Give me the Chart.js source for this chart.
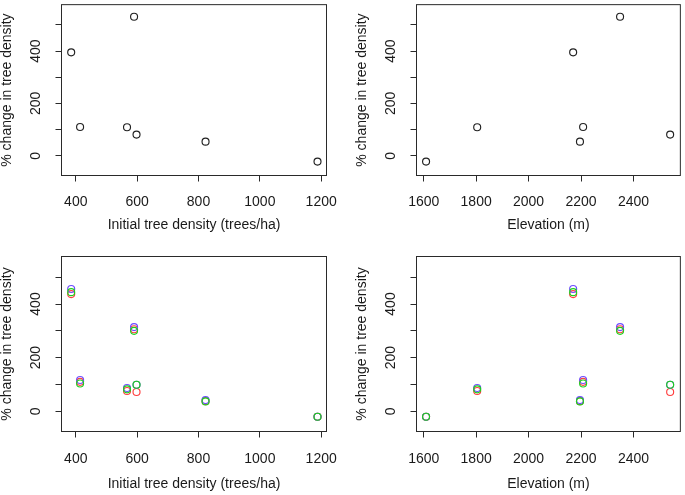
<!DOCTYPE html>
<html>
<head>
<meta charset="utf-8">
<script src="https://cdn.jsdelivr.net/npm/chart.js@4.4.0/dist/chart.umd.min.js"></script>
<style>
  html, body { margin: 0; padding: 0; background: #fff; }
  #wrap { position: relative; width: 685px; height: 495px; }
  #wrap canvas { position: absolute; left: 0; top: 0; }
</style>
</head>
<body>
<div id="wrap">
  <canvas id="c1" width="685" height="495"></canvas>
  <canvas id="c2" width="685" height="495"></canvas>
  <canvas id="c3" width="685" height="495"></canvas>
  <canvas id="c4" width="685" height="495"></canvas>
</div>
<script>
// data
const density = [385, 590, 414, 567, 598, 823, 1188];
const elevation = [2170, 2349, 2208, 1804, 2540, 2196, 1609];
const change = [395, 531, 110, 109, 81, 54, -22];
const changeRed = [437, 306, 110, 76, 72, 38, -20];
const changeGreen = [444, 300, 104, 82, 99, 37, -20];
const changeBlue = [456, 314, 117, 87, 99, 42, -20];

const densityTicks = [400, 600, 800, 1000, 1200];
const elevationTicks = [1600, 1800, 2000, 2200, 2400];
const yTicks = [0, 100, 200, 300, 400, 500];
const yTickLabels = [0, 200, 400];

const densityTitle = "Initial tree density (trees/ha)";
const elevationTitle = "Elevation (m)";
const yTitle = "% change in tree density";

const FONT = "'Liberation Sans', Arial, Helvetica, sans-serif";
const INK = "#1a1a1a";

const boxPlugin = {
  id: "box",
  afterDraw(chart) {
    const { ctx, chartArea: a } = chart;
    ctx.save();
    ctx.strokeStyle = "#2a2a2a";
    ctx.lineWidth = 1;
    ctx.strokeRect(a.left, a.top, a.right - a.left, a.bottom - a.top);
    ctx.restore();
  }
};

function pts(xs, ys) {
  return xs.map((x, i) => ({ x: x, y: ys[i] }));
}

function ptSet(data, color, order) {
  return {
    data: data,
    showLine: false,
    pointStyle: "circle",
    pointRadius: 3.5,
    pointHoverRadius: 3.5,
    pointBorderWidth: 1.15,
    pointBorderColor: color,
    pointBackgroundColor: "rgba(0,0,0,0)",
    order: order
  };
}

function panel(id, box, xRange, xTicks, xTitle, datasets) {
  const padLeft = box.l - 61.5;
  const titleBottom = box.titleMid + 7;
  new Chart(document.getElementById(id), {
    type: "scatter",
    data: { datasets: datasets },
    plugins: [boxPlugin],
    options: {
      responsive: false,
      animation: false,
      events: [],
      layout: {
        padding: { left: padLeft, top: box.t, right: 685 - box.r, bottom: 495 - titleBottom }
      },
      plugins: { legend: { display: false }, tooltip: { enabled: false } },
      scales: {
        x: {
          type: "linear",
          min: xRange[0],
          max: xRange[1],
          afterBuildTicks: (s) => { s.ticks = xTicks.map((v) => ({ value: v })); },
          afterFit: (s) => { s.height = titleBottom - box.b; s.paddingLeft = 0; s.paddingRight = 0; },
          grid: { drawOnChartArea: false, drawTicks: true, tickLength: 6, color: "#2a2a2a", lineWidth: 1 },
          border: { display: false },
          ticks: {
            font: { family: FONT, size: 14 }, color: INK, padding: box.tickPad,
            maxRotation: 0, autoSkip: false,
            callback: (v) => String(v)
          },
          title: { display: true, text: xTitle, font: { family: FONT, size: 14, lineHeight: 1 }, color: INK, padding: 0 }
        },
        y: {
          type: "linear",
          min: -75,
          max: 577,
          afterBuildTicks: (s) => { s.ticks = yTicks.map((v) => ({ value: v })); },
          afterFit: (s) => { s.width = box.l - padLeft; s.paddingTop = 0; s.paddingBottom = 0; },
          grid: { drawOnChartArea: false, drawTicks: true, tickLength: 6, color: "#2a2a2a", lineWidth: 1 },
          border: { display: false },
          ticks: {
            font: { family: FONT, size: 14 }, color: INK, padding: 7.8,
            minRotation: 90, maxRotation: 90, crossAlign: "center", autoSkip: false,
            callback: (v) => (yTickLabels.includes(v) ? String(v) : "")
          },
          title: { display: true, text: yTitle, font: { family: FONT, size: 14, lineHeight: 1 }, color: INK, padding: 0 }
        }
      }
    }
  });
}

const topLeft = { l: 61.5, t: 1.5, r: 326.5, b: 175.5, titleMid: 225.5, tickPad: 12 };
const topRight = { l: 416.5, t: 1.5, r: 682.5, b: 175.5, titleMid: 225.5, tickPad: 12 };
const botLeft = { l: 61.5, t: 256.5, r: 326.5, b: 431.5, titleMid: 484.5, tickPad: 13.4 };
const botRight = { l: 416.5, t: 256.5, r: 682.5, b: 431.5, titleMid: 484.5, tickPad: 13.4 };

const densityRange = [353.4, 1217.3];
const elevationRange = [1572.5, 2578.9];

panel("c1", topLeft, densityRange, densityTicks, densityTitle,
  [ptSet(pts(density, change), "#222", 0)]);
panel("c2", topRight, elevationRange, elevationTicks, elevationTitle,
  [ptSet(pts(elevation, change), "#222", 0)]);
panel("c3", botLeft, densityRange, densityTicks, densityTitle, [
  ptSet(pts(density, changeGreen), "#1ed01e", 0),
  ptSet(pts(density, changeBlue), "#6e4cff", 1),
  ptSet(pts(density, changeRed), "#ff4040", 2)
]);
panel("c4", botRight, elevationRange, elevationTicks, elevationTitle, [
  ptSet(pts(elevation, changeGreen), "#1ed01e", 0),
  ptSet(pts(elevation, changeBlue), "#6e4cff", 1),
  ptSet(pts(elevation, changeRed), "#ff4040", 2)
]);
</script>
</body>
</html>
